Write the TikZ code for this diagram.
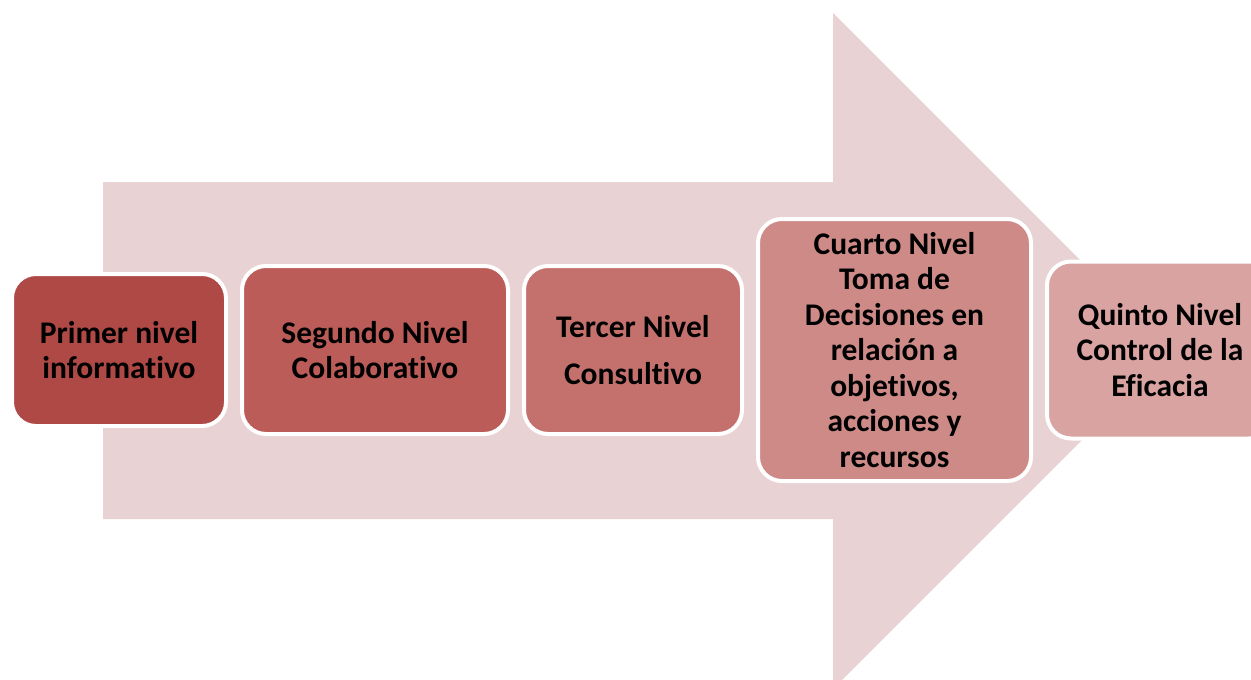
\documentclass[tikz,border=0pt]{standalone}
\usepackage{fontspec}
\setmainfont[Ligatures={NoCommon,NoRare}]{Carlito}
\usepackage{xcolor}
\usepackage{tikz}
\usetikzlibrary{positioning}
\definecolor{flecha}{HTML}{E8D2D3}
\definecolor{nivA}{HTML}{AE4946}
\definecolor{nivB}{HTML}{BB5C58}
\definecolor{nivC}{HTML}{C4716E}
\definecolor{nivD}{HTML}{CD8A87}
\definecolor{nivE}{HTML}{D9A3A2}
\def\nv{\fontsize{31.5}{35.5}\selectfont\bfseries}

\begin{document}
\begin{tikzpicture}[x=1pt, y=-1pt, node distance=12pt,
    nivel/.style={draw=white, line width=4pt, rounded corners=24pt, align=center, inner sep=0pt, font=\nv}]
    \useasboundingbox (0,0) rectangle (1251,680);
    \fill[flecha] (103,182) -- (833,182) -- (833,13) -- (1171,351) -- (833,689) -- (833,519) -- (103,519) -- cycle;
    \node[nivel, fill=nivA, minimum width=214pt, minimum height=152pt] (primer) at (119,350) {Primer nivel\\informativo};
    \node[nivel, fill=nivB, minimum width=266pt, minimum height=168pt, right=of primer] (segundo) {Segundo Nivel\\Colaborativo};
    \node[nivel, fill=nivC, minimum width=218pt, minimum height=168pt, right=of segundo] (tercer) {Tercer Nivel\\[12pt]Consultivo};
    \node[nivel, fill=nivD, minimum width=273pt, minimum height=262pt, right=of tercer] (cuarto) {Cuarto Nivel\\Toma de\\Decisiones en\\relación a\\objetivos,\\acciones y\\recursos};
    \node[nivel, fill=nivE, minimum width=226pt, minimum height=177pt, right=of cuarto] (quinto) {Quinto Nivel\\Control de la\\Eficacia};
\end{tikzpicture}
\end{document}
